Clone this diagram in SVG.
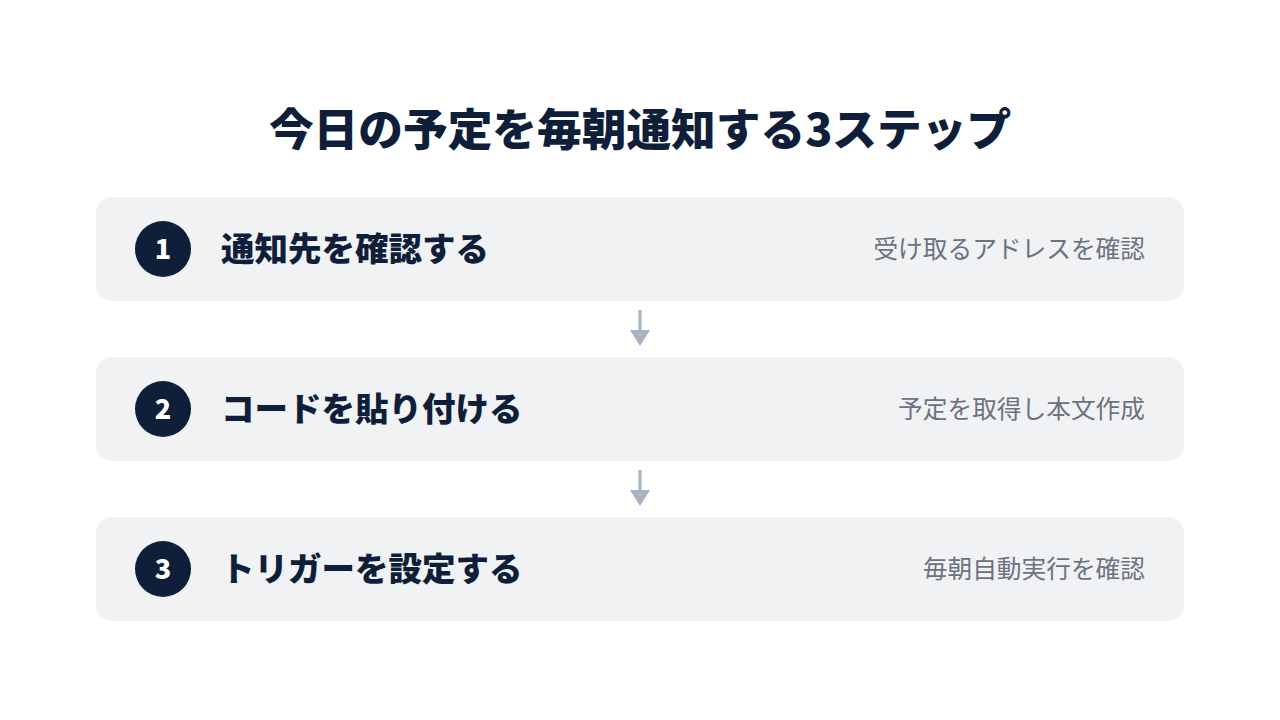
<svg xmlns="http://www.w3.org/2000/svg" width="1280" height="720" viewBox="0 0 1280 720">
<defs>
<style>
.card{fill:#f1f2f4}
.num{fill:#0f1f3a}
.numt{font-family:"Noto Sans CJK JP","Noto Sans",sans-serif;font-weight:900;font-size:27px;fill:#ffffff;text-anchor:middle}
.lbl{font-family:"Noto Sans CJK JP",sans-serif;font-weight:900;font-size:33.5px;fill:#0f1f3a}
.sub{font-family:"Noto Sans CJK JP",sans-serif;font-weight:400;font-size:24.7px;fill:#6b7280;text-anchor:end}
.title{font-family:"Noto Sans CJK JP",sans-serif;font-weight:900;font-size:44.7px;fill:#0f1f3a;text-anchor:middle}
.conn{stroke:#a9b2c0;stroke-width:3;fill:none}
.head{fill:#a9b2c0}
</style>
</defs>
<rect width="1280" height="720" fill="#ffffff"/>
<text class="title" x="640" y="146">今日の予定を毎朝通知する3ステップ</text>
<g id="step1">
<rect class="card" x="96" y="197" width="1088" height="104" rx="16"/>
<circle class="num" cx="163" cy="249" r="28"/>
<text class="numt" x="163" y="259">1</text>
<text class="lbl" x="221" y="261">通知先を確認する</text>
<text class="sub" x="1145" y="258">受け取るアドレスを確認</text>
</g>
<g id="step2">
<rect class="card" x="96" y="357" width="1088" height="104" rx="16"/>
<circle class="num" cx="163" cy="409" r="28"/>
<text class="numt" x="163" y="419">2</text>
<text class="lbl" x="221" y="421">コードを貼り付ける</text>
<text class="sub" x="1145" y="418">予定を取得し本文作成</text>
</g>
<g id="step3">
<rect class="card" x="96" y="517" width="1088" height="104" rx="16"/>
<circle class="num" cx="163" cy="569" r="28"/>
<text class="numt" x="163" y="579">3</text>
<text class="lbl" x="221" y="581">トリガーを設定する</text>
<text class="sub" x="1145" y="578">毎朝自動実行を確認</text>
</g>
<g id="connectors">
<line class="conn" x1="640" y1="310" x2="640" y2="332"/>
<polygon class="head" points="630,330 650,330 640,346"/>
<line class="conn" x1="640" y1="470" x2="640" y2="492"/>
<polygon class="head" points="630,490 650,490 640,506"/>
</g>
</svg>
